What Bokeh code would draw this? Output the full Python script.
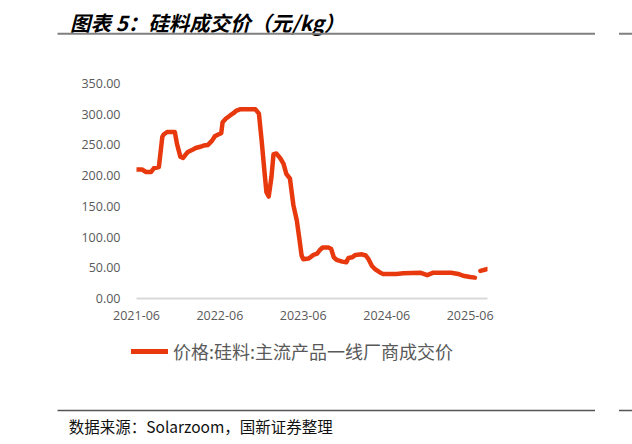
import numpy as np
import pandas as pd
from bokeh.plotting import figure
from bokeh.layouts import column
from bokeh.models import (ColumnDataSource, Range1d, FixedTicker, DatetimeTickFormatter,
                          NumeralTickFormatter, Legend, LegendItem, Label, BoxAnnotation)
from bokeh.embed import file_html
from bokeh.resources import INLINE

nan = float("nan")

dates = ["2021-06-01","2021-06-25","2021-07-13","2021-08-04","2021-08-16","2021-09-07","2021-09-22",
         "2021-09-28","2021-10-13","2021-11-16","2021-11-25","2021-12-10","2021-12-22","2022-01-10",
         "2022-02-01","2022-02-15","2022-03-07","2022-03-22","2022-04-10","2022-04-28","2022-05-10",
         "2022-05-25","2022-06-07","2022-06-13","2022-06-28","2022-07-16","2022-08-01","2022-08-13",
         "2022-08-28","2022-11-04","2022-11-19","2022-12-01","2022-12-13","2022-12-22","2023-01-01",
         "2023-01-13","2023-01-22","2023-02-04","2023-02-21","2023-03-07","2023-03-19","2023-04-04",
         "2023-04-19","2023-05-04","2023-05-16","2023-05-25","2023-06-01","2023-06-25","2023-07-16",
         "2023-08-01","2023-08-13","2023-08-25","2023-09-19","2023-10-01","2023-10-13","2023-10-25",
         "2023-11-19","2023-12-07","2023-12-16","2024-01-01","2024-01-16","2024-02-13","2024-03-01",
         "2024-03-13","2024-03-28","2024-04-10","2024-05-04","2024-05-16","2024-07-13","2024-08-13",
         "2024-10-25","2024-11-25","2024-12-22","2025-03-10","2025-04-10","2025-05-01","2025-06-01",
         "2025-06-22","2025-07-01","2025-07-16","2025-08-16"]
prices = [210, 210, 206, 206, 212, 214, 263, 267, 271, 271, 252, 231, 229, 238, 242, 245, 247, 249,
          250, 257, 264, 267, 269, 287, 293, 298, 302, 306, 308, 308, 301, 257, 208, 173, 166, 198,
          235, 236, 228, 219, 203, 195, 152, 127, 95, 70, 64, 65, 71, 73, 79, 83, 83, 81, 67, 63, 60,
          59, 66, 67, 71, 72, 70, 64, 53, 48, 42, 40, 40, 41, 42, 38, 42, 42, 40, 37, 35, 34, nan,
          45, 48]

x_tick_dates = ["2021-06-01", "2022-06-01", "2023-06-01", "2024-06-01", "2025-06-01"]
y_ticks = [0, 50, 100, 150, 200, 250, 300, 350]

series_name = "价格:硅料:主流产品一线厂商成交价"
title_text = "图表 5：硅料成交价（元/kg）"
source_text = "数据来源：Solarzoom，国新证券整理"

CJK = "Noto Sans CJK SC"
TICKF = "Open Sans"
LINE_COLOR = "#E8380D"
W = 632
H_TOP, H_MAIN, H_BOT = 60, 272, 112


def blank_fig(h):
    f = figure(width=W, height=h, output_backend="svg", toolbar_location=None,
               x_range=Range1d(0, W), y_range=Range1d(h, 0),
               x_axis_location=None, y_axis_location=None,
               min_border=0, min_border_left=0, min_border_right=0,
               min_border_top=0, min_border_bottom=0, frame_align=False)
    f.outline_line_color = None
    f.grid.visible = False
    f.background_fill_color = "white"
    f.border_fill_color = "white"
    return f


def rule(f, left, right, top, bottom, color):
    f.add_layout(BoxAnnotation(left=left, right=right, top=top, bottom=bottom,
                               fill_color=color, fill_alpha=1, line_color=None))


# ---- top: title + rule
top = blank_fig(H_TOP)
top.add_layout(Label(x=69.5, y=21, text=title_text, text_font=CJK, text_font_size="20.5px",
                     text_font_style="bold italic", text_color="#000000",
                     text_baseline="middle", text_align="left"))
rule(top, 57, 594.5, 34.3, 32.3, "#808080")
rule(top, 618.5, 632, 34.3, 32.3, "#808080")

# ---- main chart
dt = pd.to_datetime(dates)
src = ColumnDataSource(dict(date=dt, price=np.array(prices, dtype=float)))

FL, FR = 136, 487
p = figure(width=W, height=H_MAIN, output_backend="svg", toolbar_location=None,
           x_axis_type="datetime",
           x_range=Range1d(dt[0], dt[-1]), y_range=Range1d(0, 350),
           min_border_left=FL, min_border_right=W - FR,
           min_border_top=23, min_border_bottom=34, frame_align=False)
p.outline_line_color = None
p.grid.visible = False
p.background_fill_color = "white"
p.border_fill_color = "white"

r = p.line("date", "price", source=src, line_color=LINE_COLOR, line_width=4.5,
           line_join="round", line_cap="round")

xt = [int(pd.Timestamp(d).value // 10**6) for d in x_tick_dates]
p.xaxis.ticker = FixedTicker(ticks=xt)
p.xaxis.formatter = DatetimeTickFormatter(days="%Y-%m", months="%Y-%m", years="%Y-%m")
p.xaxis.axis_line_color = "#d9d9d9"
p.xaxis.axis_line_width = 2
p.xaxis.major_tick_line_color = None
p.xaxis.minor_tick_line_color = None
p.xaxis.major_tick_out = 0
p.xaxis.major_label_standoff = 12
p.xaxis.major_label_text_font = TICKF
p.xaxis.major_label_text_font_size = "12.5px"
p.xaxis.major_label_text_color = "#595959"

p.yaxis.ticker = FixedTicker(ticks=y_ticks)
p.yaxis.formatter = NumeralTickFormatter(format="0.00")
p.yaxis.axis_line_color = None
p.yaxis.major_tick_line_color = None
p.yaxis.minor_tick_line_color = None
p.yaxis.major_tick_out = 0
p.yaxis.major_label_standoff = 16
p.yaxis.major_label_text_font = TICKF
p.yaxis.major_label_text_font_size = "12.5px"
p.yaxis.major_label_text_color = "#595959"

# ---- bottom: legend + rule + source
bot = blank_fig(H_BOT)
# legend swatch renderer: same style as the series, no visible data of its own
r_leg = bot.line(x=[nan], y=[nan], line_color=LINE_COLOR, line_width=5, line_cap="round")
legend = Legend(items=[LegendItem(label=series_name, renderers=[r_leg])],
                location=(131, H_BOT - 32), orientation="horizontal",
                glyph_width=37, glyph_height=26, label_height=26, label_standoff=5,
                padding=0, margin=0, spacing=0,
                border_line_color=None, background_fill_alpha=0,
                label_text_font=CJK, label_text_font_size="18px",
                label_text_color="#595959")
bot.add_layout(legend, "center")
rule(bot, 57, 594.5, 78.8, 77.3, "#555555")
rule(bot, 618.5, 632, 78.8, 77.3, "#555555")
bot.add_layout(Label(x=68.3, y=93.5, text=source_text, text_font=CJK, text_font_size="15.5px",
                     text_color="#111111", text_baseline="middle", text_align="left"))

layout = column(top, p, bot, spacing=0)
open("out.html", "w").write(file_html(layout, INLINE))
